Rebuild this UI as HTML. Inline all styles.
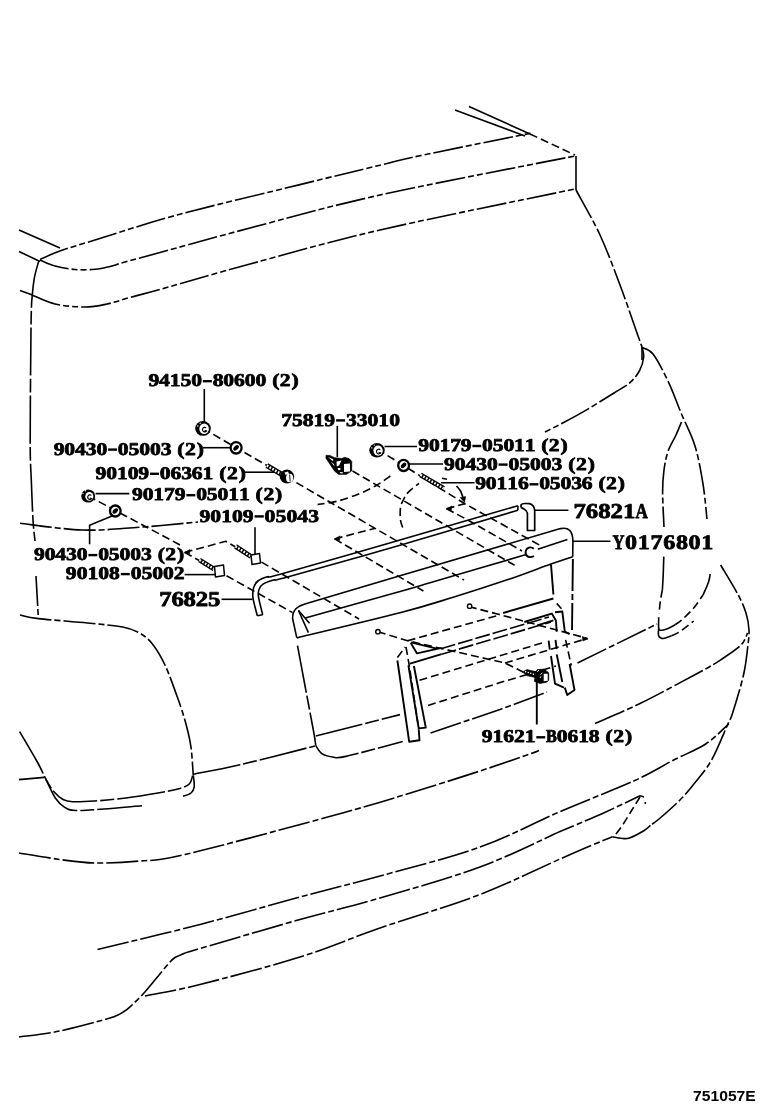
<!DOCTYPE html>
<html><head><meta charset="utf-8"><title>751057E</title>
<style>
html,body{margin:0;padding:0;background:#fff;}
body{width:760px;height:1112px;overflow:hidden;font-family:"Liberation Sans",sans-serif;}
svg{display:block;will-change:transform}
path{fill:none;stroke:#000;stroke-width:1.6;stroke-linecap:butt;stroke-linejoin:round}
.ph{stroke-dasharray:30 3 6 3 6 3}
.ld{stroke-dasharray:32 3 6 3}
.da{stroke-dasharray:8 4}
.l2{stroke-dasharray:15 3}
.l3{stroke-dasharray:48 3 14 3}
.so{}
.tk{stroke-width:1.9}
.fw{fill:#fff}
.fk{fill:#000}
.wf{fill:#fff;stroke:none}
.lb{text-rendering:geometricPrecision;font-family:"Liberation Serif",serif;font-weight:bold;text-anchor:middle;fill:#000;stroke:#000;stroke-width:0.75px;stroke-linejoin:round}
.sn{font-family:"Liberation Sans",sans-serif;font-weight:bold;fill:#000}
</style></head><body>
<svg width="760" height="1112" viewBox="0 0 760 1112">
<rect width="760" height="1112" fill="#fff"/>
<path class="so" d="M19 230 L60 248"/>
<path class="so" d="M19 251.5 L40 261.5"/>
<path class="so" d="M20 290.5 L32.5 295"/>
<path class="ph" d="M40 259.4 C43.4 258 51.3 254 60.5 250.8 C69.7 247.6 75.1 246.1 95 240 C114.9 233.9 145.8 223.4 180 214.2 C214.2 205 266.7 192.8 300 184.6 C333.3 176.4 360 170 380 165.2 C400 160.4 394.9 161 420 155.7 C445.1 150.4 512.1 136.9 530.5 133.2"/>
<path class="ph" d="M40 260 C42.5 261 49.2 264.4 55 266 C60.8 267.6 68.3 268.9 75 269.5 C81.7 270.1 89.2 269.8 95 269.3 C100.8 268.8 105 267.7 110 266.5 C115 265.3 116.7 264.3 125 262 C133.3 259.7 139.2 258.2 160 252.5 C180.8 246.8 213.3 237.6 250 228 C286.7 218.4 325.8 207 380 195 C434.2 183 542.5 162.5 575 156"/>
<path class="ph" d="M32 295 C35.8 296.5 46.2 302 55 304 C63.8 306 76.3 307 85 307 C93.7 307 99.5 305.6 107 304 C114.5 302.4 120.3 300.2 130 297.5 C139.7 294.8 145 293.6 165 288 C185 282.4 214.2 273.7 250 264 C285.8 254.3 325.8 242.5 380 230 C434.2 217.5 542.5 195.8 575 189"/>
<path class="l3" d="M38.9 260.5 C38.2 263.2 35.7 271.1 34.6 276.7 C33.5 282.3 32.9 288.2 32.4 294 C31.8 299.8 31.6 300.1 31.3 311.3 C31 322.5 30.9 338.7 30.7 361 C30.5 383.3 30.1 425.2 30.2 445 C30.3 464.8 30.8 467.5 31.3 480 C31.8 492.5 32.4 509.8 33 520 C33.6 530.2 34.7 537.5 35 541"/>
<path class="ph" d="M36 576 L38.4 618.6"/>
<path class="so" d="M455 110 L525 136"/>
<path class="so" d="M469 106.5 L530 134"/>
<path class="da" d="M530 134 L575 155"/>
<path class="so" d="M576 156 L576 190"/>
<path class="ld" d="M576 190 C580 197.5 592.7 219.2 600 235 C607.3 250.8 613.8 268.7 620 285 C626.2 301.3 633.3 322.7 637 333 C640.7 343.3 641.2 344.7 642 347"/>
<path class="so" d="M642 347 L642 360"/>
<path class="ld" d="M642 347.5 C643.8 348.6 648.7 348.4 653 354 C657.3 359.6 663.2 371 668 381 C672.8 391 677 403.2 681.5 414 C686 424.8 691.4 434.3 695 446 C698.6 457.7 701 471.8 703 484 C705 496.2 706.3 513.2 707 519"/>
<path class="ld" d="M720.6 565 C723.5 569.9 733.8 586.5 738 594.5 C742.2 602.5 744.2 607.1 746 613 C747.8 618.9 748.7 624.2 749 630 C749.3 635.8 748.5 640.5 747.6 648 C746.7 655.5 746 664.2 743.5 675 C741 685.8 735.5 704.2 732.7 712.7 C730 721.2 730.5 718.1 727 726 C723.5 733.9 717 750.5 711.6 760 C706.2 769.5 700 776.3 694.7 783 C689.4 789.7 686 794 680 800 C674 806 663.9 814.8 659 819 C654.1 823.2 651.9 824.2 650.5 825.3"/>
<path class="so" d="M650.5 825.3 C649.5 826.2 647.7 828.4 644.2 830.5 C640.7 832.6 633.4 836.7 629.5 838 C625.6 839.3 623.8 838.5 621 838.3 C618.2 838.1 614 837 612.6 836.8"/>
<path class="ld" d="M642 347 C642.3 348.7 644.1 353.1 643.7 357 C643.3 360.9 641.9 366.2 639.6 370.5 C637.3 374.8 634.3 378.9 630 382.6 C625.7 386.4 621.2 388.5 614 393 C606.8 397.5 595.5 404.6 587 409.6 C578.5 414.6 569.7 419.3 562.7 423 C555.7 426.7 548 430.5 545 432"/>
<path class="ld" d="M681.5 422 C680.6 424.2 678.2 430.1 676 435 C673.8 439.9 670 445.7 668 451.5 C666 457.3 664.9 463.2 664 470 C663.1 476.8 662.6 482.5 662.6 492 C662.6 501.5 663.8 521.2 664 527"/>
<path class="so" d="M663.8 556.6 C663.7 559.7 663.4 569.5 663.2 575 C663 580.5 662.5 587.2 662.4 589.7"/>
<path class="da" d="M662.4 589.7 C662.1 591.4 661.1 596 660.5 600 C659.9 604 659.2 611.4 659 613.7"/>
<path class="so" d="M658.7 617.3 C658.7 619.1 658.4 626.2 658.7 628.4 C659 630.5 659.3 630.1 660.5 630.2 C661.7 630.4 663.5 630.2 666 629.3 C668.5 628.4 673.7 625.5 675.2 624.7"/>
<path class="da" d="M675.2 624.7 C676.4 623.8 679.5 622 682.6 619.2 C685.7 616.4 690.3 612 693.7 608 C697.1 604 701.4 597.3 702.9 595.2"/>
<path class="so" d="M702.9 595.2 C703.8 593.1 707.2 585.9 708.4 582.4 C709.6 578.9 709.9 575.4 710.2 574"/>
<path class="so" d="M658.7 628.4 C658.7 629.6 657.9 634.1 658.7 635.8 C659.5 637.5 661.1 638.5 663.3 638.5 C665.4 638.5 670.2 636.2 671.6 635.8"/>
<path class="da" d="M671.6 635.8 C673.1 635 677.1 633.5 680.8 631 C684.5 628.5 691.6 622.7 693.7 621"/>
<path class="ld" d="M577.5 663 L657 624"/>
<path class="l3" d="M193.3 774.2 C201.1 772.6 219.7 769.4 240 764.7 C260.3 760 302.5 749.1 315 746"/>
<path class="so" d="M19 779.6 L44.2 777.4"/>
<path class="ld" d="M20 523.3 C30.3 524.4 62.2 529.3 82 530 C101.8 530.7 119.5 528.6 138.8 527.3 C158.1 526 188.1 522.9 198 522"/>
<path class="ld" d="M20 615 C23.1 615.6 27.1 617.3 38.4 618.6 C49.6 619.9 73.5 621.6 87.5 623 C101.5 624.4 114 625.4 122.6 627 C131.2 628.6 133.9 629.9 138.8 632.6 C143.7 635.3 147.6 638 152 643.4 C156.4 648.8 160.6 655.6 165 665 C169.4 674.4 174.8 690 178.4 700 C182 710 184.2 717.4 186.3 725.3 C188.4 733.2 189.8 739 191 747.4 C192.2 755.8 192.9 771.1 193.3 775.8"/>
<path class="l3" d="M19.6 731.6 C22.7 736.8 33.5 755.1 37.9 763 C42.3 770.9 43.2 774.2 45.8 779 C48.4 783.8 50.8 788.2 53.7 791.6 C56.6 795 59.9 797.8 63 799.5 C66.2 801.2 67.3 801.5 72.6 801.7 C77.9 802 85.8 801.6 94.7 801 C103.6 800.4 115.5 799.3 126 798 C136.6 796.7 149 794.6 158 793 C167 791.4 174.8 789.9 180 788.4 C185.2 786.9 187.4 785.8 189.5 783.7 C191.6 781.6 192.1 777.1 192.6 775.8"/>
<path class="so" d="M193.3 775.8 C193.5 777.6 194.6 783.9 194.2 786.8 C193.8 789.7 192.9 791.4 191 793 C189.1 794.6 184.3 795.8 183 796.3"/>
<path class="l3" d="M45.8 779 C47.4 782.2 52.1 793.3 55.3 798 C58.4 802.7 61.3 805.3 64.7 807.4 C68.1 809.5 69.2 810.2 75.8 810.5 C82.3 810.8 93 809.8 104 809 C115 808.2 135.7 806.3 142 805.8"/>
<path class="ld" d="M19 853 C25.8 854.1 47.3 857.8 60 859.5 C72.7 861.2 81.7 862.8 95 863 C108.3 863.2 125 862.4 140 861 C155 859.6 151.2 862.5 185 854.5 C218.8 846.5 303.3 823.8 342.5 813 C381.7 802.2 397.1 797 420 790 C442.9 783 462.2 776.8 480 771 C497.8 765.2 517.2 758.4 527 755 C536.8 751.6 537 751.2 539 750.5"/>
<path class="ld" d="M595 723.4 C602.7 720 623.5 711.6 641 703 C658.5 694.4 686.5 679.3 700 672 C713.5 664.7 715.2 663.5 722 659 C728.8 654.5 736.7 649.3 741 645 C745.3 640.7 746.5 635 747.6 633"/>
<path class="ld" d="M97.5 949.5 C114.6 945.3 166.2 933.2 200 924.5 C233.8 915.8 270 905.1 300 897 C330 888.9 350 884.3 380 876 C410 867.7 450 857.7 480 847 C510 836.3 534.4 822.6 560 811.6 C585.6 800.6 614.8 789.6 633.7 781 C652.7 772.4 661.7 766.2 673.7 760 C685.7 753.8 696.5 750 705.7 744 C714.9 738 724.9 727.3 728.7 724"/>
<path class="ld" d="M19 1037 C25.8 1036 44.8 1034.2 60 1031 C75.2 1027.8 99.3 1021.2 110 1018 C120.7 1014.8 120.3 1013.7 124 1011.5 C127.7 1009.3 128.7 1008.1 132 1005 C135.3 1001.9 139.8 997.6 144 993 C148.2 988.4 152.8 982.5 157 977.5 C161.2 972.5 166 966.3 169 963 C172 959.7 172.8 959 175 957.5 C177.2 956 177.8 955.8 182 954.3 C186.2 952.8 180.3 954.3 200 948.5 C219.7 942.7 270 927.9 300 919.5 C330 911.1 350 906.8 380 898 C410 889.2 450 878.1 480 867 C510 855.9 539.7 840.5 560 831.6 C580.3 822.7 588.7 819.7 602 813.7 C615.3 807.7 633.7 798.8 640 795.8"/>
<path class="so" d="M640 795.8 L644 797"/>
<circle cx="645.3" cy="803" r="1" fill="#000"/>
<path class="ld" d="M145 996 C154.2 994.1 174.2 991 200 984.5 C225.8 978 270 966.4 300 957 C330 947.6 350 938.4 380 928 C410 917.6 450 906 480 894.5 C510 883 541.4 867.2 560 859 C578.6 850.8 582.8 849 591.6 845.3 C600.4 841.6 609.1 838.2 612.6 836.8"/>
<path class="da" d="M640 797 C638.6 799.2 634.8 805.4 631.6 810.5 C628.4 815.6 624 823 621 827.4 C618 831.8 614.9 835.2 613.7 836.8"/>
<path class="l3" d="M297.5 645.7 C298.9 652.9 302.9 674.6 305.6 689 C308.3 703.4 312 722.6 313.7 732 C315.4 741.4 315.4 743.3 315.8 745.6"/>
<path class="l3" d="M315.8 745.6 C316.8 747 319 751.8 321.8 753.7 C324.6 755.6 328.6 756.5 332.6 757 C336.6 757.5 334.3 759 346 756.4 C357.7 753.8 393.2 744.1 402.7 741.6"/>
<path class="l3" d="M315.8 736 L400 714.6"/>
<path style="stroke-width:1.9" class="so" d="M551 564.5 L553.4 594.5"/>
<path style="stroke-width:1.9" class="ld" d="M572.9 558.9 L572 630"/>
<path class="so" d="M296.8 637.9 L292.6 618.5 C292.6 610 296.5 606.2 307.4 603.2 L400 575.8 L560.5 528.6 Q572.7 526 572.9 541 L572.7 556.7"/>
<path class="so" d="M305.3 617.9 C321.1 613.5 379.2 597.5 400 591.6 C420.8 585.8 408.8 589 430 582.8 C451.2 576.6 510.8 559 527 554.3"/>
<path class="so" d="M537.8 549.3 L567.4 539.4"/>
<path class="so" d="M296.8 637.9 C314 633.7 373.8 619.6 400 612.8 C426.2 606 436 602.5 454 597 C472 591.5 491.8 585.1 508 579.6 C524.2 574.1 540.2 567.8 551 564 C561.8 560.2 569.1 557.9 572.7 556.7"/>
<path class="so" d="M298.5 610.5 L308.4 632.6"/>
<path class="so" d="M298.5 610.5 L309.5 623.2"/>
<path style="stroke-width:1.9" d="M533.8 548.8 C531 546.2 526.2 547.4 525.6 552 C525.2 556.4 529.6 558.6 534 556"/>
<path class="so" d="M257.3 615.8 C256.6 612.8 253.6 602.6 253 597.9 C252.4 593.2 252.9 590.2 253.7 587.4 C254.5 584.6 255.6 582.8 257.9 581 C260.2 579.2 263.4 578 267.4 576.8 C271.4 575.6 259.9 579.8 282 573.7 C304.1 567.6 360.7 551.3 400 540 C439.3 528.7 498.2 511.4 517.9 505.7"/>
<path class="so" d="M262.7 614.7 C262 611.7 259.1 601 258.5 596.8 C257.9 592.6 258.2 591.6 259 589.5 C259.8 587.4 260.6 585.8 263 584.2 C265.4 582.6 269.5 581.2 273.7 580 C277.9 578.8 267.3 582.6 288.4 576.8 C309.4 571 361.8 556.4 400 545.3 C438.2 534.2 498.2 516 517.9 510.2"/>
<path class="so" d="M257.3 615.8 L262.7 614.7"/>
<path class="so" d="M517.9 505.7 L517.9 510.2"/>
<path style="stroke-width:1.7" d="M521 507.4 L521 505 Q522 503.4 525 503.5 L529.5 503.6 Q534.7 505 534.7 511.5 L534.7 530.5 L527.4 530.5 L527.4 513 Q527 510 521 507.4"/>
<path class="so tk" d="M397.4 660.5 L409.2 741.8 L419.5 740.3 L418.7 729.2"/>
<path class="so tk" d="M408.4 665.3 L418.7 728.4 L425.8 727.6 L413.9 666"/>
<path class="da" d="M406 647 L409.2 665 L417.9 723.7"/>
<path class="da" d="M397.4 657.4 L405.3 647.1"/>
<path class="so tk" d="M410.8 642.4 L436.8 648.7"/>
<path class="so tk" d="M410.8 643 L417 653.4 L441.6 647.9"/>
<path class="so tk" d="M410 663.7 L441.6 654.2"/>
<path class="l2" d="M441.6 654.2 L551 622"/>
<path class="l2" d="M440.8 648.7 L549 617"/>
<path class="da" d="M419.5 680.3 L545 642"/>
<path class="da" d="M428 705.5 L500 682.6 L556 666"/>
<path class="ld" d="M430.5 733 L500 709.5 L547 692"/>
<path class="so tk" d="M503.2 613 L553.4 598.5"/>
<path class="da" d="M556.7 603.4 L561.5 608.7"/>
<path class="so tk" d="M555 612.3 L562.3 611.5 L564.8 631.7 L569.6 634.2"/>
<path class="so tk" d="M524.3 622 L551.8 613.6 L555.9 620.4 L556.7 631.7"/>
<path class="so tk" d="M537.2 625.3 L553.4 620.4"/>
<path class="so tk" d="M548.6 640.6 L549.8 649.6"/>
<path class="so tk" d="M555.5 640 L556.7 649"/>
<path class="so tk" d="M551 656 L555 683.6 L564 687.6"/>
<path class="so tk" d="M556.7 654.4 L562.3 682"/>
<path class="da" d="M565.6 639.8 L571.3 665.7"/>
<path class="so tk" d="M569.6 664 L574.5 690 L567.2 695 L564.8 687.6"/>
<path class="da" d="M377.9 631.7 L407.6 640.8 L505 663 L523 672"/>
<path class="da" d="M407.6 640.8 L497.6 615.5"/>
<path class="da" d="M468.8 606.6 L497.4 614 L587.4 638.4"/>
<path class="da" d="M505 663 L587.4 638.4"/>
<circle cx="377.9" cy="631.7" r="2.2" fill="#fff" stroke="#000" stroke-width="1.4"/>
<circle cx="469.6" cy="606.2" r="2.2" fill="#fff" stroke="#000" stroke-width="1.4"/>
<path class="da" d="M203 428.4 L464 580"/>
<path class="da" d="M352.5 471 L514.6 565.3"/>
<path class="da" d="M377.4 449.2 L464.7 503.7 L540.7 545.7"/>
<path class="da" d="M446.6 508.8 L464.7 503.7"/>
<path class="da" d="M446.6 508.8 L466 519 L522 551"/>
<path class="da" d="M334.7 538.9 L374.7 528.4"/>
<path class="da" d="M334.7 538.9 L423.4 591"/>
<path class="da" d="M88.2 496 L182 546"/>
<path class="da" d="M184.6 552.4 L225.8 541.3 L359 619"/>
<path class="da" d="M184.6 552.4 L292.6 612.6"/>
<path class="da" d="M390.4 476 C388.1 477.6 381.7 482.4 376.6 485.3 C371.5 488.2 366.4 490.9 360 493.5 C353.6 496.1 345 499.1 337.9 501 C330.8 502.9 321 504 317.6 504.6"/>
<path class="da" d="M402.7 527.6 C402.3 526.4 400.9 523.6 400.5 520.2 C400.1 516.8 400 510.8 400.5 507.4 C401 504 402.1 502.5 403.3 500 C404.5 497.5 405.3 495.4 407.9 492.6 C410.5 489.8 417.1 484.9 419 483.4"/>
<path class="so" d="M442 478.2 L447 479.3"/>
<path class="so" d="M456.6 486 C457.2 486.8 459.3 488.8 460.5 491 C461.7 493.2 463.1 497.8 463.6 499.2"/>
<path style="stroke-width:0.5" class="fk" d="M464.6 502.5 L460.2 497.5 L465.6 496.5 Z"/>
<path style="stroke-width:0.5" class="fk" d="M446.2 508.9 L451.8 506 L451.4 510.4 Z"/>
<path class="so" d="M204.3 389 L204.3 423.4"/>
<path class="so" d="M203 447.7 L231.3 447.7"/>
<path class="so" d="M244.5 472.2 L275.3 472.2"/>
<path class="so" d="M337.3 426 L337.3 457"/>
<path class="so" d="M95.6 493.6 L129.3 493.6"/>
<path class="so" d="M112 516 L89.6 525.2 L89.6 544.3"/>
<path class="so" d="M184.6 574.6 L215.7 574.6"/>
<path class="so" d="M255 527.3 L255 554.3"/>
<path class="so" d="M221.5 599.3 L252.6 599.3"/>
<path class="so" d="M384.5 446.5 L417 446.5"/>
<path class="so" d="M409 464 L443 464"/>
<path class="so" d="M441 482.8 L474.5 482.8"/>
<path class="so" d="M534.7 510.2 L568.4 510.2"/>
<path class="so" d="M573 541.3 L610.5 541.3"/>
<path style="stroke-width:1.9" class="so" d="M536.8 682 L536.8 724.5"/>
<ellipse cx="203" cy="428.4" rx="7.8" ry="7.4" fill="#000"/>
<ellipse cx="204.1" cy="428.7" rx="4.8" ry="5.2" fill="#fff"/>
<path style="stroke-width:1.2" d="M206.2 427.8 a2.3 2.3 0 1 0 0.5 3.1 l-2.1 -0.3"/>
<circle cx="197.8" cy="426" r="0.7" fill="#fff"/><circle cx="200.2" cy="423.2" r="0.7" fill="#fff"/>
<ellipse cx="236.1" cy="447.8" rx="5.5" ry="5.7" fill="#fff" stroke="#000" stroke-width="2.3"/>
<ellipse cx="236.1" cy="447.8" rx="3.3" ry="2" fill="#000" transform="rotate(-45 236.1 447.8)"/>
<line x1="266.8" y1="465.6" x2="282" y2="474.5" stroke="#000" stroke-width="5.2"/>
<line x1="266.8" y1="465.6" x2="282" y2="474.5" stroke="#fff" stroke-width="2.5" stroke-dasharray="1.7 1.5"/>
<ellipse cx="287" cy="476.6" rx="7.2" ry="7" fill="#000"/>
<ellipse cx="289.6" cy="478" rx="3.6" ry="4.3" fill="#fff"/>
<path d="M284.5 472.5 l3.5 -1 l1 2.6 l-3.3 1 Z" class="wf"/>
<path style="stroke-width:0.9" d="M289.6 474.5 l0.6 7"/>
<ellipse cx="88.2" cy="496" rx="7" ry="6.6" fill="#000"/>
<ellipse cx="89.3" cy="496.3" rx="4" ry="4.4" fill="#fff"/>
<path style="stroke-width:1.2" d="M91.4 495.4 a2.3 2.3 0 1 0 0.5 3.1 l-2.1 -0.3"/>
<circle cx="83" cy="493.6" r="0.7" fill="#fff"/><circle cx="85.4" cy="490.8" r="0.7" fill="#fff"/>
<ellipse cx="115.3" cy="511" rx="5.3" ry="5.5" fill="#fff" stroke="#000" stroke-width="2.3"/>
<ellipse cx="115.3" cy="511" rx="3.3" ry="2" fill="#000" transform="rotate(-45 115.3 511)"/>
<ellipse cx="377" cy="450.3" rx="7.7" ry="7.3" fill="#000"/>
<ellipse cx="378.1" cy="450.6" rx="4.7" ry="5.1" fill="#fff"/>
<path style="stroke-width:1.2" d="M380.2 449.7 a2.3 2.3 0 1 0 0.5 3.1 l-2.1 -0.3"/>
<circle cx="371.8" cy="447.9" r="0.7" fill="#fff"/><circle cx="374.2" cy="445.1" r="0.7" fill="#fff"/>
<ellipse cx="403.6" cy="465.4" rx="5.4" ry="5.6" fill="#fff" stroke="#000" stroke-width="2.3"/>
<ellipse cx="403.6" cy="465.4" rx="3.3" ry="2" fill="#000" transform="rotate(-45 403.6 465.4)"/>
<line x1="420.5" y1="474.8" x2="443.6" y2="488.4" stroke="#000" stroke-width="5"/>
<line x1="420.5" y1="474.8" x2="443.6" y2="488.4" stroke="#fff" stroke-width="2.3" stroke-dasharray="1.7 1.5"/>
<path style="stroke-width:0.8" class="fk" d="M326 455.4 L329.6 455.4 L334.7 457.8 L341.8 458.6 L344.6 457.4 L349 458.6 L351.7 461.3 L351.7 470.8 L346.6 474.3 L338.7 474.3 L334.7 471.2 L326 458.2 Z"/>
<path d="M344 463.9 L350 463.6 L350 471.4 L344 472 Z" class="wf"/>
<path d="M328.2 457 L333.6 459.6 L332.4 461 Z M336.5 461.5 L341.5 460.6 L339 465.5 L336.8 466.5 Z M337.5 468 L340.4 468 L340.4 470 L338.5 470.2 Z M339.5 472 L343 472.2 L342.6 473.4 L340.4 473.3 Z M330.8 461.6 L334 464.2 L334.6 466.6 Z" class="wf"/>
<line x1="235.5" y1="546.3" x2="251" y2="556.5" stroke="#000" stroke-width="5"/>
<line x1="235.5" y1="546.3" x2="251" y2="556.5" stroke="#fff" stroke-width="2.3" stroke-dasharray="1.7 1.5"/>
<path style="stroke-width:1.5" class="fw" d="M251 555 L259.5 553.5 L260.5 563 L252 564.5 Z"/>
<line x1="199.5" y1="560" x2="214" y2="569" stroke="#000" stroke-width="5"/>
<line x1="199.5" y1="560" x2="214" y2="569" stroke="#fff" stroke-width="2.3" stroke-dasharray="1.7 1.5"/>
<path style="stroke-width:1.5" class="fw" d="M214.5 566.5 L223.5 565 L224.5 575.5 L215.5 577 Z"/>
<path style="stroke-width:0.6" class="fk" d="M522.2 672 L527 669.6 L535.3 671.5 L535.3 677.6 L527.5 675.8 Z"/>
<path style="stroke-width:1.3;stroke-dasharray:1.3 1.4;stroke:#fff" d="M525 671.6 L534.5 674.4"/>
<path style="stroke-width:0.8" class="fk" d="M535.3 674.7 L537.2 669.6 L544 669.2 L548.7 672.8 L548.7 680.3 L546.3 682.2 L540 683.4 L534.5 681.4 Z"/>
<path d="M543.7 673.7 L547.7 673.7 L547.7 680.8 L543.7 681.3 Z" class="wf"/>
<path style="stroke-width:0.9;stroke:#fff" d="M537.3 672 L538.9 670 M540.4 674.7 L542.4 672.8 M540 678 L540.8 676.4"/>
<path style="stroke-width:0.5" class="fk" d="M184.4 552.5 L190 549.4 L189.6 554 Z"/>
<path style="stroke-width:0.5" class="fk" d="M334.3 539 L340 535.9 L339.6 540.5 Z"/>
<path style="stroke-width:0.5" class="fk" d="M588 638.9 L582.4 636.4 L582.8 641 Z"/>
<path style="stroke-width:2.4" d="M202.9 381.2 H211.8"/>
<text class="lb" font-size="18" transform="translate(0 386.3) scale(1.20 1)" x="128.2 137.1 146 155 163.9 181.7 190.6 199.5 208.5 217.4 229.8 237.7 246" y="0">9415080600(2)</text>
<path style="stroke-width:2.4" d="M108.1 449.6 H117"/>
<text class="lb" font-size="18" transform="translate(0 454.7) scale(1.20 1)" x="49.2 58.1 67 76 84.9 102.7 111.6 120.5 129.5 138.4 150.8 158.7 167" y="0">9043005003(2)</text>
<path style="stroke-width:2.4" d="M150 473.8 H158.9"/>
<text class="lb" font-size="18" transform="translate(0 478.9) scale(1.20 1)" x="84.1 93 102 110.9 119.8 137.6 146.5 155.5 164.4 173.3 185.7 193.6 201.9" y="0">9010906361(2)</text>
<path style="stroke-width:2.4" d="M186.4 495.2 H195.3"/>
<text class="lb" font-size="18" transform="translate(0 500.3) scale(1.20 1)" x="114.5 123.4 132.3 141.2 150.1 168 176.9 185.8 194.7 203.6 216 224 232.2" y="0">9017905011(2)</text>
<path style="stroke-width:2.4" d="M254.6 516.4 H263.8"/>
<text class="lb" font-size="18" transform="translate(0 521.5) scale(1.20 1)" x="170.7 179.8 188.8 197.9 206.9 225 234.1 243.2 252.2 261.3" y="0">9010905043</text>
<path style="stroke-width:2.4" d="M88.4 555.1 H97.3"/>
<text class="lb" font-size="18" transform="translate(0 560.2) scale(1.20 1)" x="32.8 41.7 50.6 59.5 68.5 86.3 95.2 104.1 113 122 134.4 142.3 150.5" y="0">9043005003(2)</text>
<path style="stroke-width:2.4" d="M120.8 574.1 H129.8"/>
<text class="lb" font-size="18" transform="translate(0 579.2) scale(1.20 1)" x="59.4 68.4 77.4 86.4 95.4 113.4 122.4 131.4 140.4 149.4" y="0">9010805002</text>
<text class="lb" font-size="21.2" transform="translate(0 606.3) scale(1.17 1)" x="141.4 151.8 162.2 172.6 183.1" y="0">76825</text>
<path style="stroke-width:2.4" d="M336.1 420.4 H345.1"/>
<text class="lb" font-size="18" transform="translate(0 425.5) scale(1.20 1)" x="238.8 247.8 256.8 265.8 274.8 292.8 301.8 310.8 319.8 328.8" y="0">7581933010</text>
<path style="stroke-width:2.4" d="M472.4 446 H481.3"/>
<text class="lb" font-size="18" transform="translate(0 451.1) scale(1.20 1)" x="353.1 362 370.8 379.7 388.5 406.2 415.1 424 432.8 441.7 454 461.9 470.1" y="0">9017905011(2)</text>
<path style="stroke-width:2.4" d="M498.6 464.6 H507.6"/>
<text class="lb" font-size="18" transform="translate(0 469.7) scale(1.20 1)" x="374.5 383.4 392.4 401.4 410.3 428.2 437.2 446.1 455.1 464.1 476.5 484.5 492.8" y="0">9043005003(2)</text>
<path style="stroke-width:2.4" d="M529.5 484.3 H538.4"/>
<text class="lb" font-size="18" transform="translate(0 489.4) scale(1.20 1)" x="400.5 409.4 418.3 427.2 436.1 453.8 462.7 471.6 480.5 489.4 501.7 509.6 517.8" y="0">9011605036(2)</text>
<text class="lb" font-size="21.2" transform="translate(641.6 517.8) scale(0.81 1)" x="0" y="0">A</text>
<text class="lb" font-size="21.2" transform="translate(0 517.8) scale(1.17 1)" x="495.4 506 516.6 527.2 537.8" y="0">76821</text>
<text class="lb" font-size="20.6" transform="translate(618.4 548.8) scale(0.81 1)" x="0" y="0">Y</text>
<text class="lb" font-size="20.6" transform="translate(0 548.8) scale(1.17 1)" x="539.4 550.3 561.1 572 582.9 593.7 604.6" y="0">0176801</text>
<path style="stroke-width:2.4" d="M536.3 737.3 H545.2"/>
<text class="lb" font-size="18" transform="translate(551.4 742.4) scale(0.90 1)" x="0" y="0">B</text>
<text class="lb" font-size="18" transform="translate(0 742.4) scale(1.20 1)" x="406 415 423.9 432.8 441.7 468.5 477.4 486.3 495.2 507.6 515.5 523.8" y="0">916210618(2)</text>
<text class="sn" x="693" y="1100.6" font-size="14.8" textLength="62.8" lengthAdjust="spacingAndGlyphs">751057E</text>
</svg>
</body></html>
